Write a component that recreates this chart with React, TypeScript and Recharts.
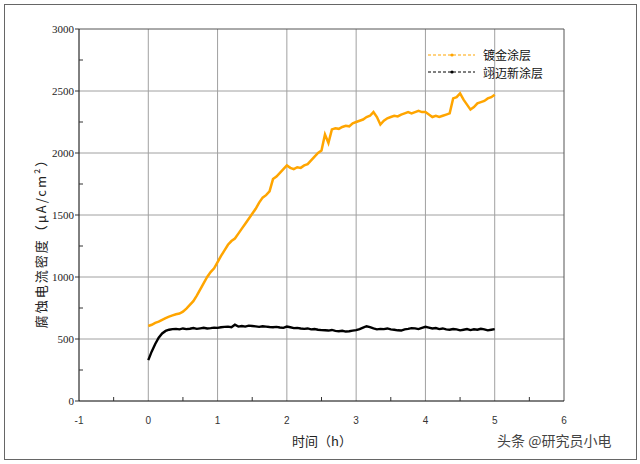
import React from "react";
import {
  CartesianGrid,
  Legend,
  Line,
  LineChart,
  ReferenceLine,
  XAxis,
  YAxis,
} from "recharts";

// sampling interval of the recorded curves (h)
const STEP = 0.05;

// 镀金涂层 current density (μA/cm²), one value every 0.05 h from 0 to 5 h
const goldValues = [
  605, 615, 630, 640, 655, 668, 680, 690, 700, 705,
  720, 745, 775, 805, 850, 900, 950, 1000, 1040, 1070,
  1120, 1170, 1215, 1260, 1290, 1310, 1350, 1390, 1430, 1470,
  1510, 1550, 1600, 1640, 1660, 1690, 1790, 1810, 1840, 1870,
  1900, 1880, 1870, 1885, 1880, 1900, 1910, 1940, 1970, 2000,
  2020, 2150, 2080, 2190, 2200, 2195, 2210, 2220, 2215, 2240,
  2250, 2260, 2270, 2290, 2300, 2330, 2290, 2230, 2260, 2280,
  2290, 2300, 2295, 2310, 2320, 2330, 2320, 2330, 2340, 2330,
  2330, 2310, 2290, 2300, 2290, 2300, 2310, 2320, 2440, 2450,
  2480, 2430, 2390, 2350, 2370, 2400, 2410, 2420, 2440, 2450,
  2470,
];

// 翊迈新涂层 current density (μA/cm²), same sampling
const ymValues = [
  330, 400, 460, 510, 545, 565, 575, 580, 582, 578,
  585, 580, 583, 588, 582, 586, 590, 585, 588, 592,
  590, 595, 598, 600, 595, 615, 600, 605, 600, 608,
  605, 602, 598, 603, 600, 597, 595, 598, 593, 590,
  600, 595, 588, 590, 585, 582, 585, 578, 580, 575,
  572, 570, 568, 573, 565, 562, 566, 560, 563, 568,
  572, 580, 592, 603, 595, 585, 578, 582, 580, 585,
  578, 575, 570, 568, 578, 582, 588, 586, 580, 590,
  598, 592, 585, 588, 580, 585, 578, 575, 580, 578,
  570, 575, 580, 572, 578, 575, 582, 578, 570, 575,
  580,
];

const xTicks = [-1, -0.5, 0, 0.5, 1, 1.5, 2, 2.5, 3, 3.5, 4, 4.5, 5, 5.5, 6];
const yTicks = [0, 250, 500, 750, 1000, 1250, 1500, 1750, 2000, 2250, 2500, 2750, 3000];
const xGrid = [0, 1, 2, 3, 4, 5];
const yGrid = [500, 1000, 1500, 2000, 2500];

const data = goldValues.map((g, i) => ({
  t: Math.round(i * STEP * 100) / 100,
  gold: g,
  ym: ymValues[i],
}));

function XTick(props: any) {
  const { x, y, payload } = props;
  const v = payload.value;
  if (Number.isInteger(v)) {
    return (
      <text
        x={x}
        y={y + 23}
        textAnchor="middle"
        fontSize={10}
        fontFamily="Liberation Sans, Arial, sans-serif"
        fill="#333"
      >
        {v}
      </text>
    );
  }
  return <line x1={x} x2={x} y1={y} y2={y - 4} stroke="#333" />;
}

function YTick(props: any) {
  const { x, y, payload } = props;
  const v = payload.value;
  if (v % 500 === 0) {
    return (
      <g>
        <line x1={x - 4} x2={x} y1={y} y2={y} stroke="#333" />
        <text
          x={x - 5}
          y={y + 4}
          textAnchor="end"
          fontSize={11}
          fontFamily="Liberation Serif, Times New Roman, serif"
          fill="#222"
        >
          {v}
        </text>
      </g>
    );
  }
  return <line x1={x} x2={x + 4} y1={y} y2={y} stroke="#333" />;
}

function LegendBox(props: any) {
  const { payload } = props;
  return (
    <div style={{ fontFamily: "Noto Sans CJK SC, sans-serif", fontSize: 12, color: "#111", textAlign: "left" }}>
      {payload.map((p: any) => (
        <div key={p.value} style={{ display: "flex", alignItems: "center", height: 17.5 }}>
          <svg width={55} height={8} style={{ flex: "none" }}>
            <line x1={0} x2={47} y1={4} y2={4} stroke={p.color} strokeDasharray="3 2" />
            <circle cx={24} cy={4} r={1.6} fill={p.color} />
          </svg>
          <span style={{ lineHeight: "15px" }}>{p.value}</span>
        </div>
      ))}
    </div>
  );
}

export default function App() {
  return (
    <div style={{ position: "relative", width: 640, height: 464, background: "#fff" }}>
      <style>{"body{margin:0}"}</style>
      <div
        style={{
          position: "absolute",
          left: 4,
          top: 4,
          width: 631,
          height: 454,
          border: "1px solid #666",
        }}
      />
      <LineChart
        width={640}
        height={464}
        data={data}
        margin={{ top: 29, right: 76, bottom: 33, left: 0 }}
      >
        <CartesianGrid
          stroke="#a0a0a0"
          horizontalValues={yGrid}
          verticalValues={xGrid}
        />
        <XAxis
          dataKey="t"
          type="number"
          domain={[-1, 6]}
          ticks={xTicks}
          interval={0}
          height={30}
          tickSize={0}
          tickMargin={0}
          tick={<XTick />}
          axisLine={{ stroke: "#000" }}
        />
        <YAxis
          type="number"
          domain={[0, 3000]}
          ticks={yTicks}
          interval={0}
          width={79}
          tickSize={0}
          tickMargin={0}
          tick={<YTick />}
          axisLine={{ stroke: "#000" }}
        />
        <ReferenceLine y={3000} stroke="#555" />
        <ReferenceLine x={6} stroke="#555" />
        <Legend
          layout="vertical"
          verticalAlign="middle"
          align="center"
          itemSorter="dataKey"
          content={<LegendBox />}
          wrapperStyle={{ top: 46, left: 428, right: "auto", bottom: "auto", width: 150, margin: 0 }}
        />
        <Line
          type="linear"
          dataKey="gold"
          name="镀金涂层"
          stroke="#ffa500"
          strokeWidth={2.5}
          dot={false}
          isAnimationActive={false}
        />
        <Line
          type="linear"
          dataKey="ym"
          name="翊迈新涂层"
          stroke="#000"
          strokeWidth={2.4}
          dot={false}
          isAnimationActive={false}
        />
      </LineChart>
      <div
        style={{
          position: "absolute",
          left: 40,
          top: 240,
          transform: "translate(-50%, -50%) rotate(-90deg)",
          whiteSpace: "nowrap",
          fontFamily: "Noto Sans CJK SC, sans-serif",
          fontSize: 13,
          letterSpacing: 2,
          color: "#222",
        }}
      >
        腐蚀电流密度（μA/cm²）
      </div>
      <div
        style={{
          position: "absolute",
          left: 322,
          top: 440,
          transform: "translate(-50%, -50%)",
          whiteSpace: "nowrap",
          fontFamily: "Noto Sans CJK SC, sans-serif",
          fontSize: 13,
          color: "#222",
        }}
      >
        时间（h）
      </div>
      <div
        style={{
          position: "absolute",
          left: 497,
          top: 440,
          transform: "translateY(-50%)",
          whiteSpace: "nowrap",
          fontFamily: "Noto Sans CJK SC, sans-serif",
          fontSize: 14,
          color: "#444",
        }}
      >
        头条 @研究员小电
      </div>
    </div>
  );
}
